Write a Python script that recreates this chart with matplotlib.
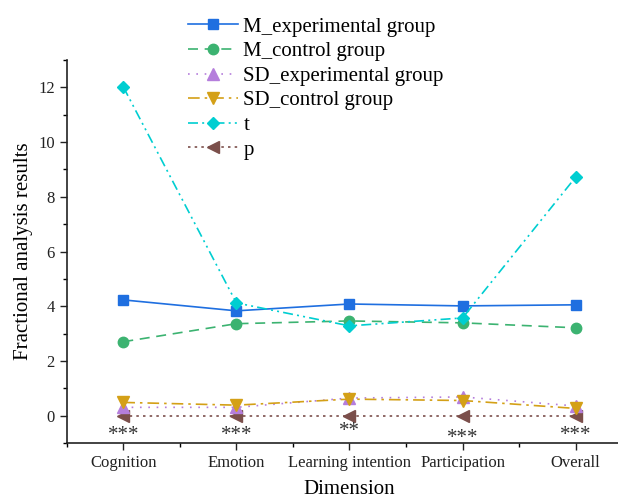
import matplotlib
matplotlib.use("Agg")
import matplotlib.pyplot as plt
from matplotlib.ticker import MultipleLocator

plt.rcParams['font.family'] = ['Liberation Serif', 'DejaVu Serif']

# Data
dimensions = ["Cognition", "Emotion", "Learning intention", "Participation", "Overall"]
m_experimental = [4.23, 3.83, 4.08, 4.01, 4.05]
m_control = [2.70, 3.36, 3.46, 3.39, 3.21]
sd_experimental = [0.30, 0.30, 0.64, 0.68, 0.35]
sd_control = [0.48, 0.38, 0.60, 0.55, 0.26]
t_values = [12.02, 4.12, 3.28, 3.57, 8.72]
p_values = [0.0, 0.0, 0.0, 0.0, 0.0]
significance = ["***", "***", "**", "***", "***"]
sig_y = [-0.72, -0.72, -0.60, -0.84, -0.72]

fig = plt.figure(figsize=(6.18, 5.01), dpi=100)
ax = fig.add_axes([0.108, 0.116, 0.915, 0.764])
x = list(range(len(dimensions)))

ax.plot(x, m_experimental, color="#1f6fe0", linestyle="-", linewidth=1.2,
        marker="s", markersize=7, label="M_experimental group", zorder=6)
ax.plot(x, m_control, color="#3cb371", linestyle=(0, (6, 4)), linewidth=1.2,
        marker="o", markersize=7.5, label="M_control group", zorder=5)
ax.plot(x, sd_experimental, color="#b57edc", linestyle=(0, (1, 4)), linewidth=1.2,
        marker="^", markersize=8, label="SD_experimental group", zorder=3)
ax.plot(x, sd_control, color="#d4a017", linestyle=(0, (7, 3, 1.5, 3)), linewidth=1.2,
        marker="v", markersize=8, label="SD_control group", zorder=4)
ax.plot(x, t_values, color="#00ced1", linestyle=(0, (6, 2.5, 1.2, 2.5, 1.2, 2.5)), linewidth=1.2,
        marker="D", markersize=6.5, label="t", zorder=7)
ax.plot(x, p_values, color="#7b4f4b", linestyle=(0, (1.5, 2.5)), linewidth=1.2,
        marker="<", markersize=8, label="p", zorder=2)

for xi, s, yi in zip(x, significance, sig_y):
    ax.text(xi, yi, s, ha="center", va="center", fontsize=15, color="#333333")

ax.set_xlim(-0.5, 4.5)
ax.set_ylim(-1, 13)
ax.set_xticks(x)
ax.set_xticklabels(dimensions)
ax.xaxis.set_minor_locator(MultipleLocator(0.5))
ax.yaxis.set_major_locator(MultipleLocator(2))
ax.yaxis.set_minor_locator(MultipleLocator(1))
ax.tick_params(axis="both", which="major", direction="out", length=5, width=1,
               labelsize=12, colors="#222222")
ax.tick_params(axis="both", which="minor", direction="out", length=3, width=1)

for side in ("top", "right"):
    ax.spines[side].set_visible(False)
for side in ("left", "bottom"):
    ax.spines[side].set_linewidth(1.2)
    ax.spines[side].set_color("#222222")

ax.set_xlabel("Dimension", fontsize=15, labelpad=7)
ax.set_ylabel("Fractional analysis results", fontsize=15, labelpad=4)

ax.legend(loc="upper left", bbox_to_anchor=(0.2, 1.134), frameon=False,
          fontsize=15, handlelength=2.4, handletextpad=0.25, labelspacing=0.24,
          borderaxespad=0)

fig.savefig("out.png", dpi=100, facecolor="white")
